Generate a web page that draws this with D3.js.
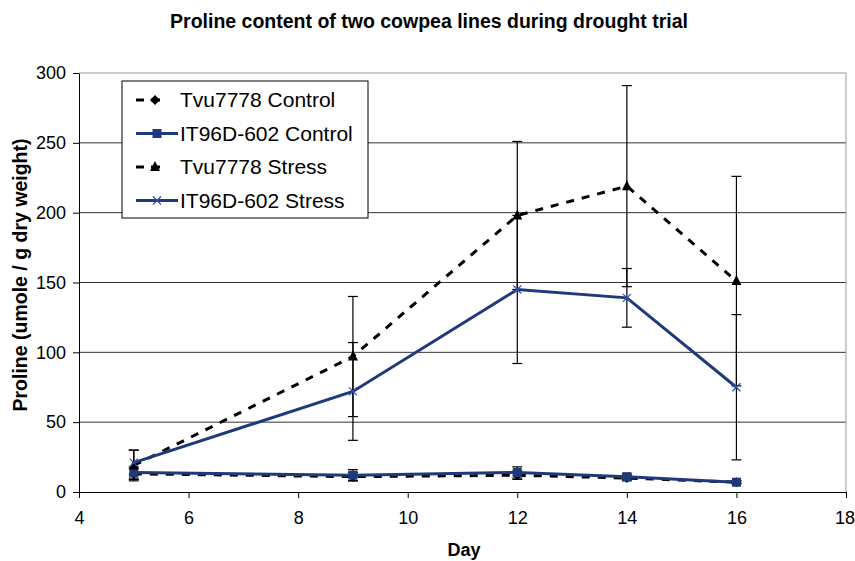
<!DOCTYPE html>
<html><head><meta charset="utf-8">
<script src="https://cdn.jsdelivr.net/npm/d3@7"></script>
<style>body{margin:0;background:#fff;font-family:"Liberation Sans",Arial,sans-serif}</style>
</head><body><svg id="c" width="855" height="561"></svg>
<script>
const days = [5, 9, 12, 14, 16];
const tvuControl = [13, 11, 12, 10, 7];
const tvuControlErr = [4, 3, 3, 2, 1];
const itControl = [14, 12, 14, 11, 7];
const itControlErr = [4, 4, 4, 2, 1];
const tvuStress = [19, 97, 198, 219, 151];
const tvuStressErr = [11, 43, 53, 72, 75];
const itStress = [21, 72, 145, 139, 75];
const itStressErr = [9, 35, 53, 21, 52];
const xTicks = [4, 6, 8, 10, 12, 14, 16, 18];
const yTicks = [0, 50, 100, 150, 200, 250, 300];
const seriesNames = ["Tvu7778 Control", "IT96D-602 Control", "Tvu7778 Stress", "IT96D-602 Stress"];

const navy = "#1f3a7a";
const FONT = "Liberation Sans, Arial, sans-serif";
const series = [
  {name: seriesNames[0], vals: tvuControl, err: tvuControlErr, color: "#000", dash: "8,8", marker: "diamond"},
  {name: seriesNames[1], vals: itControl, err: itControlErr, color: navy, dash: null, marker: "square"},
  {name: seriesNames[2], vals: tvuStress, err: tvuStressErr, color: "#000", dash: "8,8", marker: "triangle"},
  {name: seriesNames[3], vals: itStress, err: itStressErr, color: navy, dash: null, marker: "x"}
];

const svg = d3.select("#c").attr("font-family", FONT);
const L = 79, R = 846, T = 73, B = 492;
const x = d3.scaleLinear().domain([4, 18]).range([L, R]);
const y = d3.scaleLinear().domain([0, 300]).range([B, T]);

// gridlines
svg.append("g").selectAll("line").data(yTicks.filter(d => d > 0)).join("line")
  .attr("x1", L).attr("x2", R).attr("y1", d => y(d)).attr("y2", d => y(d))
  .attr("stroke", d => d === 300 ? "#999" : "#333").attr("stroke-width", 1);
svg.append("line").attr("x1", R).attr("x2", R).attr("y1", T).attr("y2", B).attr("stroke", "#999");

// axes
const xa = svg.append("g").attr("transform", `translate(0,${B})`)
  .call(d3.axisBottom(x).tickValues(xTicks).tickSize(6).tickSizeOuter(0).tickPadding(13));
const ya = svg.append("g").attr("transform", `translate(${L},0)`)
  .call(d3.axisLeft(y).tickValues(yTicks).tickSize(6).tickSizeOuter(0).tickPadding(7));
[xa, ya].forEach(a => {
  a.attr("font-family", FONT).attr("font-size", 18);
  a.selectAll("text").attr("fill", "#000");
  a.selectAll("line").attr("stroke", "#000");
  a.select(".domain").attr("stroke", "#000");
});
xa.selectAll(".tick text").filter(d => d === 18).attr("dx", -1.5);

// error bars
series.forEach(s => {
  const g = svg.append("g");
  days.forEach((d, i) => {
    const cx = x(d), y1 = y(s.vals[i] + s.err[i]), y0 = y(s.vals[i] - s.err[i]);
    g.append("line").attr("x1", cx).attr("x2", cx).attr("y1", y1).attr("y2", y0).attr("stroke", "#000").attr("stroke-width", 1.2);
    [y1, y0].forEach(yy => g.append("line").attr("x1", cx - 5).attr("x2", cx + 5).attr("y1", yy).attr("y2", yy).attr("stroke", "#000").attr("stroke-width", 1.2));
  });
});

function marker(g, type, cx, cy, color) {
  if (type === "diamond") g.append("path").attr("d", `M${cx},${cy-5}L${cx+5},${cy}L${cx},${cy+5}L${cx-5},${cy}Z`).attr("fill", color);
  else if (type === "square") g.append("rect").attr("x", cx-4.5).attr("y", cy-4.5).attr("width", 9).attr("height", 9).attr("fill", color);
  else if (type === "triangle") g.append("path").attr("d", `M${cx},${cy-6}L${cx+5},${cy+4}L${cx-5},${cy+4}Z`).attr("fill", color);
  else if (type === "x") g.append("path").attr("d", `M${cx-4},${cy-4}L${cx+4},${cy+4}M${cx-4},${cy+4}L${cx+4},${cy-4}`).attr("stroke", "#3050b0").attr("stroke-width", 1.2);
}

const line = d3.line().x(d => x(d[0])).y(d => y(d[1]));
series.forEach(s => {
  const pts = days.map((d, i) => [d, s.vals[i]]);
  svg.append("path").attr("d", line(pts)).attr("fill", "none").attr("stroke", s.color)
    .attr("stroke-width", 3).attr("stroke-dasharray", s.dash);
  const g = svg.append("g");
  pts.forEach(p => marker(g, s.marker, x(p[0]), y(p[1]), s.color));
});

// legend
const lg = svg.append("g");
lg.append("rect").attr("x", 122).attr("y", 81).attr("width", 246).attr("height", 137).attr("fill", "#fff").attr("stroke", "#000").attr("stroke-width", 1);
series.forEach((s, i) => {
  const yy = 100 + i * 33.5;
  if (s.dash) {
    lg.append("line").attr("x1", 136).attr("x2", 144).attr("y1", yy).attr("y2", yy).attr("stroke", "#000").attr("stroke-width", 3);
    lg.append("line").attr("x1", 151).attr("x2", 160).attr("y1", yy).attr("y2", yy).attr("stroke", "#000").attr("stroke-width", 3);
    marker(lg, s.marker, 155, yy, "#000");
  } else {
    lg.append("line").attr("x1", 136).attr("x2", 178).attr("y1", yy).attr("y2", yy).attr("stroke", s.color).attr("stroke-width", 3);
    marker(lg, s.marker, 157, yy, s.color);
  }
  lg.append("text").attr("x", 180).attr("y", yy + 7).attr("font-size", 21).attr("fill", "#000").text(s.name);
});

// titles
svg.append("text").attr("x", 429).attr("y", 28).attr("text-anchor", "middle").attr("font-size", 19.5).attr("font-weight", "bold").text("Proline content of two cowpea lines during drought trial");
svg.append("text").attr("x", 464).attr("y", 556).attr("text-anchor", "middle").attr("font-size", 18).attr("font-weight", "bold").text("Day");
svg.append("text").attr("transform", `translate(27,275) rotate(-90)`).attr("text-anchor", "middle").attr("font-size", 19.5).attr("font-weight", "bold").text("Proline (umole / g dry weight)");
</script></body></html>
